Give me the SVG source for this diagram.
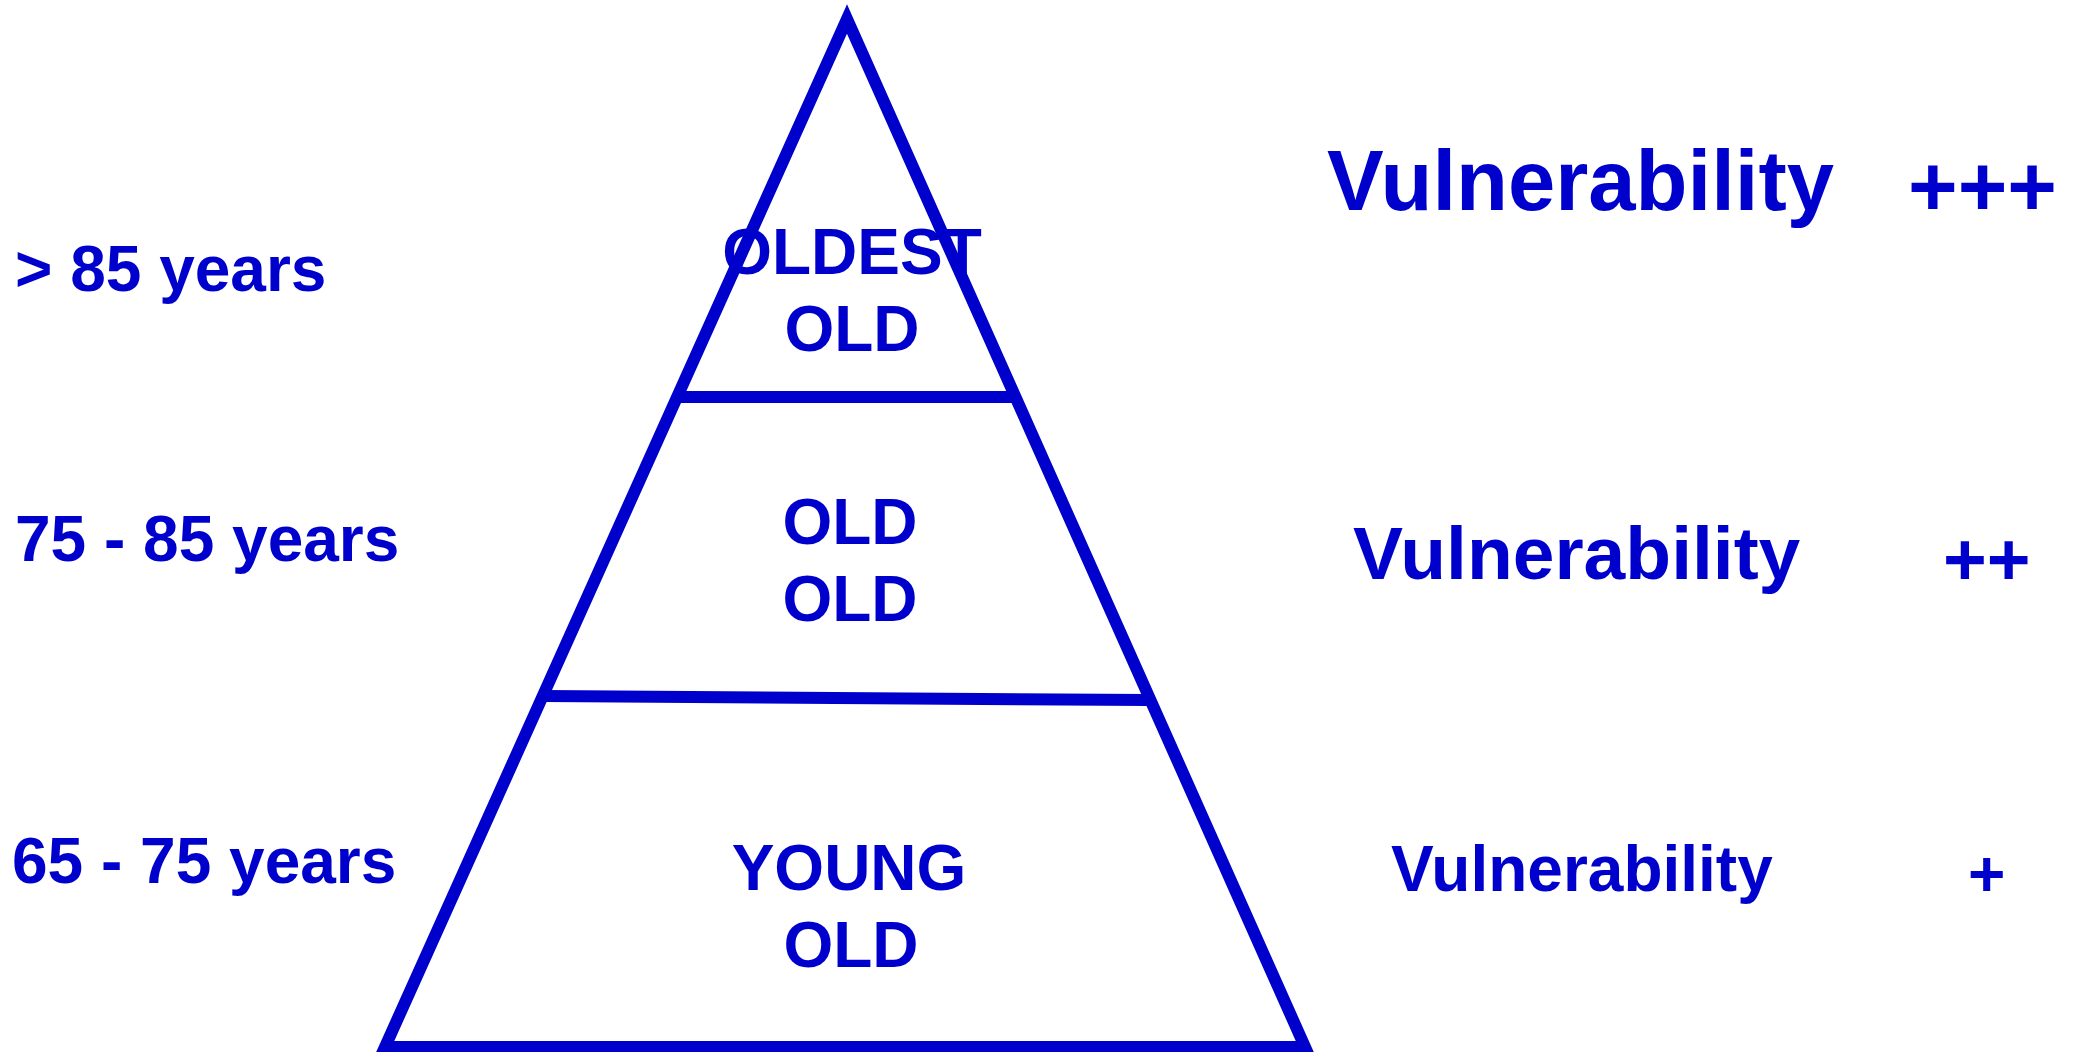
<svg xmlns="http://www.w3.org/2000/svg" width="2080" height="1052" viewBox="0 0 2080 1052">
<style>
.t{font-family:"Liberation Sans",Arial,sans-serif;font-weight:bold;fill:#0000CC}
.s{stroke:#0000CC;stroke-width:12;fill:none}
</style>
<rect width="2080" height="1052" fill="#FFFFFF"/>
<g id="pyramid">
<polygon class="s" points="847,19 385,1047 1305,1047" stroke-linejoin="miter"/>
</g>
<g id="connectors">
<line class="s" x1="679" y1="397" x2="1013" y2="397"/>
<line class="s" x1="544" y1="696" x2="1148" y2="700"/>
</g>
<g id="tier-oldest-old">
<text class="t" x="852" y="274" font-size="64" text-anchor="middle">OLDEST</text>
<text class="t" x="852" y="351" font-size="64" text-anchor="middle">OLD</text>
</g>
<g id="tier-old-old">
<text class="t" x="850" y="544" font-size="64" text-anchor="middle">OLD</text>
<text class="t" x="850" y="621" font-size="64" text-anchor="middle">OLD</text>
</g>
<g id="tier-young-old">
<text class="t" x="849" y="890" font-size="64" text-anchor="middle">YOUNG</text>
<text class="t" x="851" y="967" font-size="64" text-anchor="middle">OLD</text>
</g>
<g id="age-labels">
<text class="t" x="15" y="291" font-size="64">&gt; 85 years</text>
<text class="t" x="15" y="561" font-size="64">75 - 85 years</text>
<text class="t" x="12" y="883" font-size="64">65 - 75 years</text>
</g>
<g id="vulnerability-labels">
<text class="t" x="1327" y="210" font-size="85">Vulnerability</text>
<text class="t" x="1908" y="216" font-size="85">+++</text>
<text class="t" x="1353" y="579" font-size="75">Vulnerability</text>
<text class="t" x="1943" y="585" font-size="75">++</text>
<text class="t" x="1391" y="891" font-size="64">Vulnerability</text>
<text class="t" x="1968" y="896" font-size="64">+</text>
</g>
</svg>
